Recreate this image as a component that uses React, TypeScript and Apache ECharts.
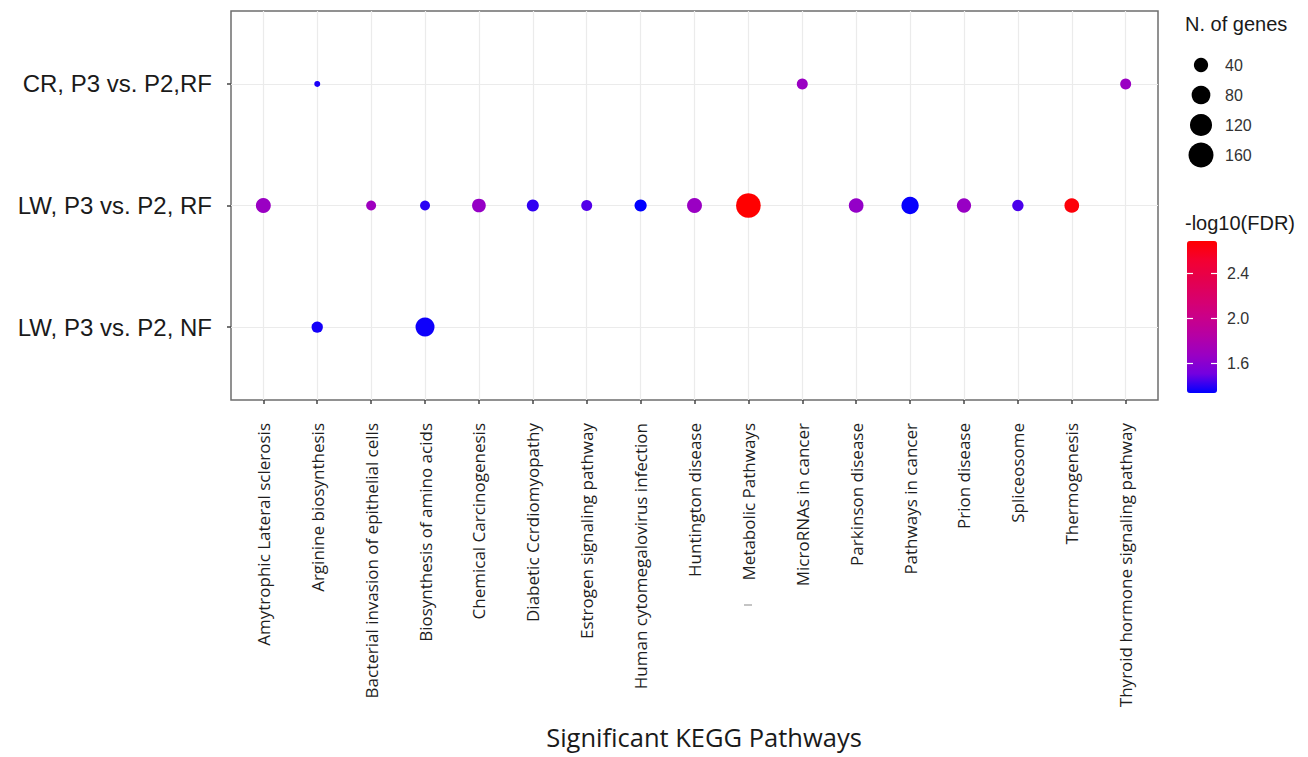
import React, { useEffect, useRef } from 'react';
import * as echarts from 'echarts';

// ---- Data ----
const pathways = [
  'Amytrophic Lateral sclerosis',
  'Arginine biosynthesis',
  'Bacterial invasion of epithelial cells',
  'Biosynthesis of amino acids',
  'Chemical Carcinogenesis',
  'Diabetic Ccrdiomyopathy',
  'Estrogen signaling pathway',
  'Human cytomegalovirus infection',
  'Huntington disease',
  'Metabolic Pathways',
  'MicroRNAs in cancer',
  'Parkinson disease',
  'Pathways in cancer',
  'Prion disease',
  'Spliceosome',
  'Thermogenesis',
  'Thyroid hormone signaling pathway',
];

// bottom to top
const comparisons = ['LW, P3 vs. P2, NF', 'LW, P3 vs. P2, RF', 'CR, P3 vs. P2,RF'];

const N = null;
// number of genes per pathway, per comparison
const lwNfGenes = [N, 21, N, 83, N, N, N, N, N, N, N, N, N, N, N, N, N];
const lwRfGenes = [45, N, 14, 14, 36, 25, 19, 26, 45, 155, N, 43, 66, 40, 21, 43, N];
const crGenes = [N, 2, N, N, N, N, N, N, N, N, 19, N, N, N, N, N, 19];
// -log10(FDR) per pathway, per comparison
const lwNfLogFdr = [N, 1.37, N, 1.36, N, N, N, N, N, N, N, N, N, N, N, N, N];
const lwRfLogFdr = [1.68, N, 1.7, 1.4, 1.66, 1.41, 1.46, 1.34, 1.68, 2.69, N, 1.65, 1.35, 1.67, 1.45, 2.66, N];
const crLogFdr = [N, 1.38, N, N, N, N, N, N, N, N, 1.68, N, N, N, N, N, 1.68];

const sizeLegendValues = [40, 80, 120, 160];
const fdrTicks = [1.6, 2.0, 2.4];
const fdrMin = 1.34;
const fdrMax = 2.69;
const colorStops = ['#0000FF', '#7300E0', '#9A00C3', '#B500A5', '#CA0089', '#D9006B', '#E5004D', '#F40031', '#FF0000'];

const genesByRow = [lwNfGenes, lwRfGenes, crGenes];
const fdrByRow = [lwNfLogFdr, lwRfLogFdr, crLogFdr];

function dotSize(genes: number) {
  return 3.6 + 1.69 * Math.sqrt(genes);
}

function buildPoints() {
  const pts: number[][] = [];
  genesByRow.forEach((row, r) => {
    row.forEach((g, i) => {
      if (g != null) pts.push([i, r, fdrByRow[r][i] as number, g]);
    });
  });
  return pts;
}

export default function App() {
  const ref = useRef<HTMLDivElement>(null);
  useEffect(() => {
    document.body.style.margin = '0';
    const chart = echarts.init(ref.current!, null, { renderer: 'svg' });
    const xIdx = pathways.map((_, i) => i);
    const yIdx = comparisons.map((_, i) => i);
    const option: any = {
      animation: false,
      backgroundColor: '#ffffff',
      grid: [
        {
          left: 231, top: 11, width: 927, height: 389,
          show: true, borderColor: '#6e6e6e', borderWidth: 1.5, backgroundColor: 'transparent',
          outerBoundsMode: 'none', containLabel: false,
        },
        { left: 1187, top: 241, width: 30, height: 152, outerBoundsMode: 'none', containLabel: false },
        { left: 1189, top: 50, width: 24, height: 120, outerBoundsMode: 'none', containLabel: false },
      ],
      xAxis: [
        {
          gridIndex: 0, type: 'value', min: -0.6, max: 16.6, position: 'bottom',
          axisLine: { show: false, onZero: false },
          axisTick: { show: true, length: 4, customValues: xIdx, lineStyle: { color: '#444', width: 1.5 } },
          axisLabel: {
            show: true, customValues: xIdx, rotate: 90, margin: 23,
            fontFamily: 'Open Sans', fontSize: 17, color: '#1e1e1e',
            formatter: (v: number) => pathways[Math.round(v)] ?? '',
          },
          splitLine: { show: true, lineStyle: { color: '#ebebeb', width: 1.2 } },
        },
        { gridIndex: 1, type: 'value', min: 0, max: 1, show: false },
        { gridIndex: 2, type: 'value', min: -1, max: 1, show: false },
      ],
      yAxis: [
        {
          gridIndex: 0, type: 'value', min: -0.6, max: 2.6, position: 'left',
          axisLine: { show: false, onZero: false },
          axisTick: { show: true, length: 4, customValues: yIdx, lineStyle: { color: '#444', width: 1.5 } },
          axisLabel: {
            show: true, customValues: yIdx, margin: 19,
            fontFamily: 'Liberation Sans', fontSize: 24, color: '#1a1a1a',
            formatter: (v: number) => comparisons[Math.round(v)] ?? '',
          },
          splitLine: { show: true, lineStyle: { color: '#ebebeb', width: 1.2 } },
        },
        {
          gridIndex: 1, type: 'value', min: fdrMin, max: fdrMax, position: 'right', z: 10,
          axisLine: { show: false, onZero: false },
          axisTick: { show: true, inside: true, length: 6, customValues: fdrTicks, lineStyle: { color: '#ffffff', width: 1.2 } },
          axisLabel: {
            show: true, customValues: fdrTicks, margin: 10,
            fontFamily: 'Liberation Sans', fontSize: 16, color: '#333',
            formatter: (v: number) => v.toFixed(1),
          },
          splitLine: { show: false },
        },
        {
          gridIndex: 1, type: 'value', min: fdrMin, max: fdrMax, position: 'left', z: 10,
          axisLine: { show: false, onZero: false },
          axisTick: { show: true, inside: true, length: 6, customValues: fdrTicks, lineStyle: { color: '#ffffff', width: 1.2 } },
          axisLabel: { show: false },
          splitLine: { show: false },
        },
        {
          gridIndex: 2, type: 'category', data: sizeLegendValues.map(String), inverse: true, position: 'right',
          axisLine: { show: false, onZero: false }, axisTick: { show: false },
          axisLabel: { margin: 12, fontFamily: 'Liberation Sans', fontSize: 16, color: '#333' },
          splitLine: { show: false },
        },
      ],
      visualMap: [
        {
          type: 'continuous', min: fdrMin, max: fdrMax, dimension: 2, seriesIndex: 0,
          inRange: { color: colorStops },
          left: 1187, top: 241, itemWidth: 30, itemHeight: 152, padding: 0,
          calculable: false, hoverLink: false, show: true, orient: 'vertical',
        },
      ],
      series: [
        {
          type: 'scatter', xAxisIndex: 0, yAxisIndex: 0,
          data: buildPoints(),
          symbol: 'circle',
          symbolSize: (v: number[]) => dotSize(v[3]),
          itemStyle: { opacity: 1 },
          z: 5,
        },
        {
          type: 'scatter', xAxisIndex: 2, yAxisIndex: 3,
          data: sizeLegendValues.map((g, i) => [0, i, g]),
          symbol: 'circle',
          symbolSize: (v: number[]) => dotSize(v[2]),
          itemStyle: { color: '#000000', opacity: 1 },
        },
      ],
      graphic: [
        {
          type: 'text', left: 1185, top: 14,
          style: { text: 'N. of genes', fontFamily: 'Liberation Sans', fontSize: 20, fill: '#1a1a1a' },
        },
        {
          type: 'text', left: 1185, top: 213,
          style: { text: '-log10(FDR)', fontFamily: 'Liberation Sans', fontSize: 20, fill: '#1a1a1a' },
        },
        {
          type: 'text', x: 704, y: 737,
          style: {
            text: 'Significant KEGG Pathways', fontFamily: 'Open Sans', fontSize: 25.5, fill: '#1a1a1a',
            align: 'center', verticalAlign: 'middle', lineHeight: 30,
          },
        },
        {
          type: 'line', shape: { x1: 744, y1: 605, x2: 752, y2: 605 },
          style: { stroke: '#b0b0b0', lineWidth: 1.5 },
        },
      ],
    };
    chart.setOption(option);
    return () => chart.dispose();
  }, []);
  return <div ref={ref} style={{ width: 1308, height: 757 }} />;
}
